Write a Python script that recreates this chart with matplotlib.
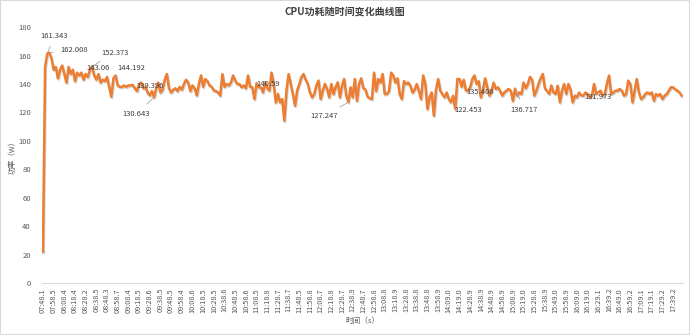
import matplotlib
matplotlib.use('Agg')
import matplotlib.pyplot as plt
import matplotlib.patheffects as pe
from matplotlib.patches import Rectangle

plt.rcParams['font.family'] = ['Noto Sans CJK SC', 'DejaVu Sans']

# x轴标签 (每5个采样点一个)
time_labels = [
    '07:48.1', '07:58.5', '08:08.4', '08:18.4', '08:28.2', '08:38.5', '08:48.3', '08:58.7',
    '09:08.4', '09:18.5', '09:28.6', '09:38.5', '09:48.5', '09:58.4', '10:08.6', '10:18.5',
    '10:28.5', '10:38.6', '10:48.5', '10:58.6', '11:08.5', '11:18.8', '11:28.7', '11:38.7',
    '11:48.5', '11:58.8', '12:08.7', '12:18.8', '12:28.7', '12:38.9', '12:48.7', '12:58.8',
    '13:08.8', '13:18.9', '13:28.8', '13:38.8', '13:48.8', '13:58.9', '14:09.0', '14:19.0',
    '14:28.9', '14:38.9', '14:48.9', '14:58.9', '15:08.9', '15:19.0', '15:28.8', '15:38.9',
    '15:49.0', '15:58.9', '16:09.0', '16:19.0', '16:29.1', '16:39.2', '16:49.0', '16:59.2',
    '17:09.1', '17:19.1', '17:29.2', '17:39.2',
]
label_step = 5

# 功率 (W)
power = [
    22, 152, 161.343, 162.008, 158, 150, 152, 144, 150, 153,
    147, 141, 152, 147, 150, 142, 148, 146, 148, 143,
    147, 145, 150, 152.373, 146, 143.06, 147, 141, 143, 142,
    145, 138, 131, 144.192, 146, 139, 138, 138, 139, 138,
    139, 139, 139.396, 137, 135, 140, 141, 137, 138, 134,
    132, 135, 130.643, 137, 141, 134, 136, 143, 147, 137,
    134, 136, 137, 135, 138, 136, 140, 143, 141, 135,
    139, 137, 132, 140, 146, 138, 143.5, 142, 139, 138,
    135.5, 135, 134, 131.8, 147, 138, 140, 139, 141, 146,
    142.4, 140, 140, 137.7, 139, 137, 146, 138, 137.7, 129.4,
    140.59, 137.7, 137.7, 134.1, 141.2, 137, 135.3, 148, 140, 127,
    133, 127, 129.4, 114.1, 135.3, 147, 140, 132.9, 124.7, 135.3,
    140, 144.7, 147, 143, 140, 134.1, 130.6, 132.9, 138.8, 142.4,
    129.4, 135.3, 140, 136.5, 130.6, 140, 132.9, 137.7, 141.2, 130.6,
    138.8, 143.5, 131.8, 127.247, 137.7, 130.6, 143.5, 128.2, 140, 144,
    137, 136, 131, 130, 129.4, 148, 135, 143.5, 141, 147,
    132.9, 133, 135, 148, 146, 141, 144, 132.9, 129.4, 142,
    140, 141, 138.8, 134, 136, 140, 135, 129.4, 146, 140,
    122.4, 130.6, 134, 117.7, 136, 143.5, 135.3, 132.9, 130.6, 134,
    129.4, 127.1, 131.8, 122.453, 143.5, 143.5, 138, 143, 135.408, 135.3,
    137.7, 143.5, 146, 140, 142, 130.6, 136, 144, 137.7, 131.8,
    135.3, 141, 136.5, 137.7, 135.3, 131.8, 134.1, 135.3, 136.5, 135.3,
    128.2, 136.717, 131.8, 134.1, 132.9, 141, 137, 140, 145, 143,
    131.8, 135.3, 140, 144, 147, 137, 135, 133, 139, 134,
    133, 138.8, 127.1, 135.3, 140, 133, 140, 136, 127.1, 131.8,
    130.6, 134, 131.973, 131.8, 134, 133, 130.6, 131.8, 140, 133,
    134.1, 135.3, 131.8, 132.9, 140, 146, 132.9, 134, 135.3, 135.3,
    136.5, 135.3, 131.8, 132.9, 142.4, 140, 127.1, 135.3, 143.5, 134.1,
    129.4, 130.6, 132.9, 134.1, 132.9, 134.1, 128.2, 132.9, 131.8, 132.9,
    129.4, 131.8, 132.9, 135.3, 137.7, 137.7, 136.3, 135.3, 134.1, 131.8,
]

# 带数据标签的点
label_idx = [2, 3, 23, 25, 33, 42, 52, 100, 143, 193, 198, 221, 252]
# 标签文字位置 (索引, 数值) 以及是否画引导线
label_text_pos = [(5.4, 174.1), (14.5, 164.2), (33.7, 162.1), (26, 151.5), (41.2, 151.5),
                  (50.1, 138.8), (43.8, 119), (105.6, 140.2), (131.8, 117.6), (199.2, 121.9),
                  (204.8, 134.6), (225.4, 121.9), (259.8, 131.0)]
label_leader = [True, True, True, True, True, False, True, False, True, False, False, True, False]

fig = plt.figure(figsize=(6.9, 3.35), dpi=100)
ax = fig.add_axes([0.0607, 0.155, 0.9287, 0.764])

x = list(range(len(power)))
ax.plot(x, power, color='#ED7D31', lw=1.8, solid_joinstyle='round',
        path_effects=[pe.SimpleLineShadow(offset=(0.6, -0.9), shadow_color='#7f7f7f', alpha=0.35),
                      pe.Normal()])

for i, pos, lead in zip(label_idx, label_text_pos, label_leader):
    arrow = dict(arrowstyle='-', color='#A6A6A6', lw=0.6, shrinkA=3, shrinkB=1) if lead else None
    ax.annotate(f'{power[i]:g}', xy=(i, power[i]), xytext=pos, ha='center', va='center',
                fontsize=5.5, color='#404040', arrowprops=arrow)

ax.set_xlim(-0.5, len(power) - 0.5)
ax.set_ylim(0, 180)
ax.set_yticks(range(0, 181, 20))
tick_pos = list(range(0, len(time_labels) * label_step, label_step))
ax.set_xticks(tick_pos)
ax.set_xticklabels(time_labels, rotation=90)
ax.tick_params(axis='y', length=0, pad=8, labelsize=5.5, labelcolor='#595959')
ax.tick_params(axis='x', length=0, pad=3.5, labelsize=5.3, labelcolor='#595959')

for s in ['top', 'right', 'left']:
    ax.spines[s].set_visible(False)
ax.spines['bottom'].set_color('#D9D9D9')
ax.spines['bottom'].set_linewidth(0.8)

ax.set_xlabel('时间（s）', fontsize=5.5, color='#595959')
ax.xaxis.set_label_coords(0.5, -0.148)
ax.xaxis.label.set_va('center')
ax.set_ylabel('功率（W）', fontsize=5.5, color='#595959')
ax.yaxis.set_label_coords(-0.045, 0.5)
ax.yaxis.label.set_va('center')

fig.text(0.5, 1 - 12 / 335, 'CPU功耗随时间变化曲线图', ha='center', va='center',
         fontsize=7.2, fontweight='bold', color='#404040')

fig.patches.append(Rectangle((0, 0), 1, 1, transform=fig.transFigure, fill=False,
                             edgecolor='#D9D9D9', lw=1.5))

fig.savefig('out.png', dpi=100)
